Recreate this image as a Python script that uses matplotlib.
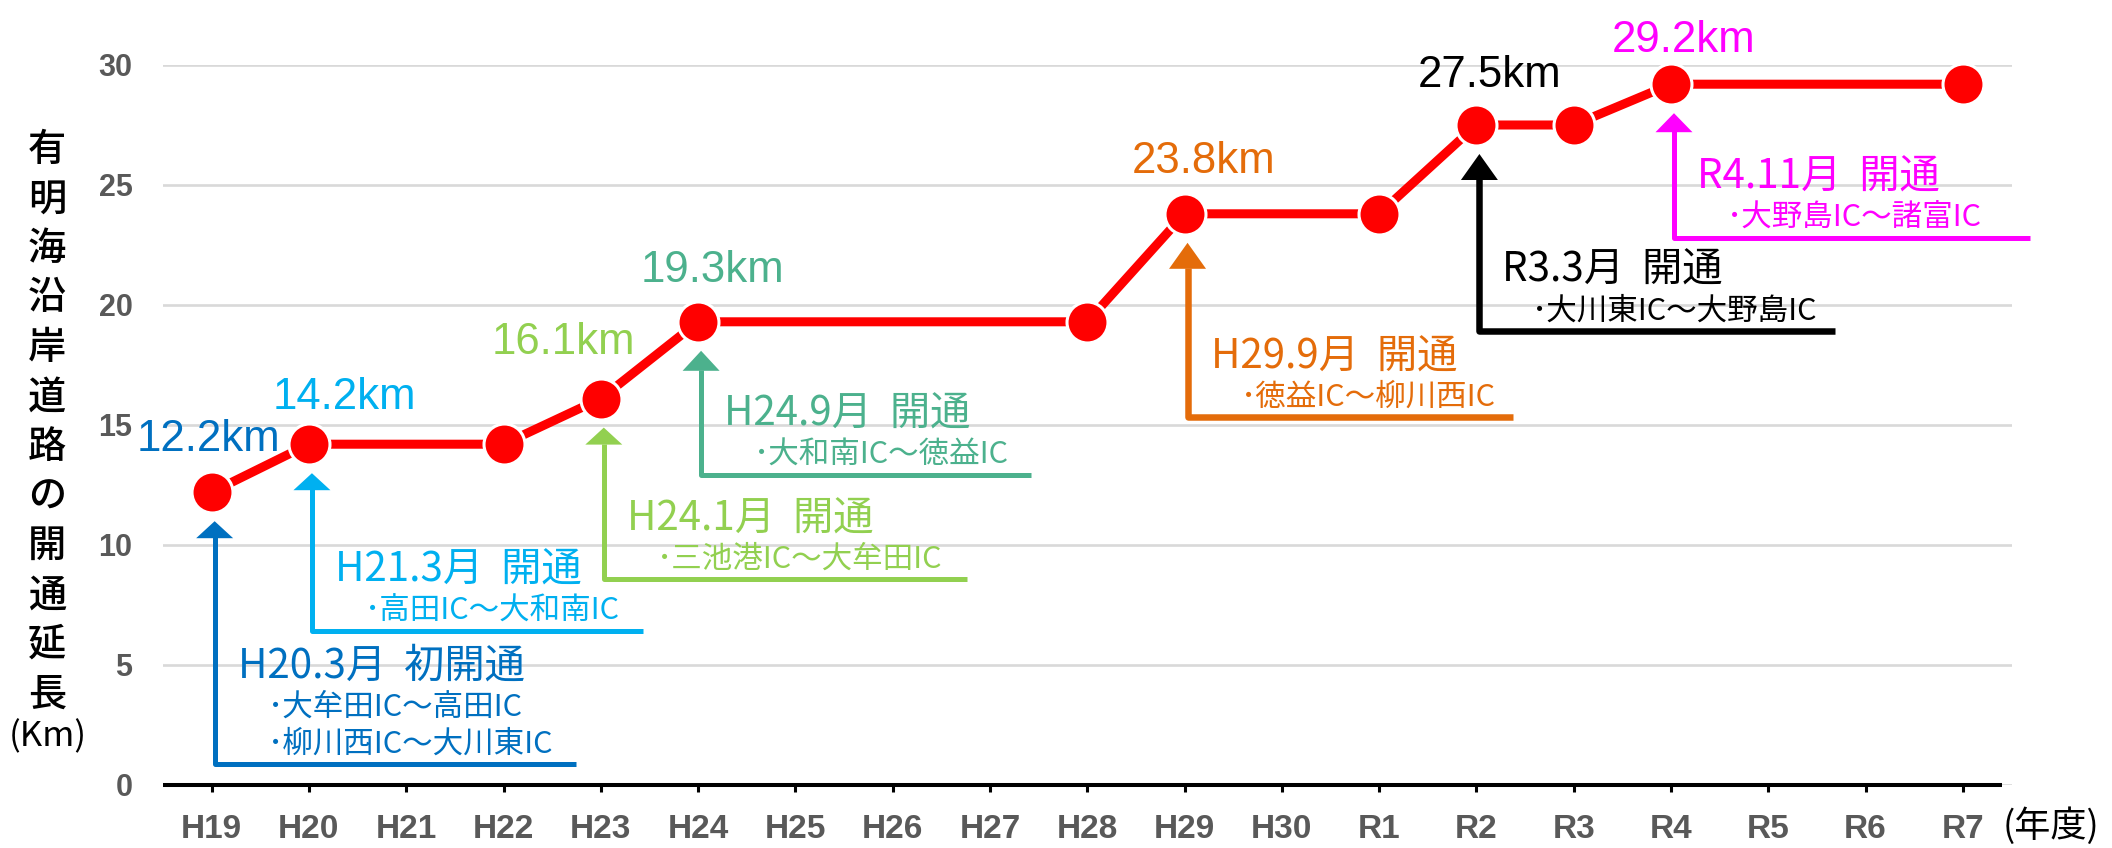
import matplotlib
matplotlib.use("Agg")
import matplotlib.pyplot as plt
from matplotlib.patches import Polygon
from matplotlib.transforms import offset_copy

# ---------------- data ----------------
years = ["H19", "H20", "H21", "H22", "H23", "H24", "H25", "H26", "H27", "H28",
         "H29", "H30", "R1", "R2", "R3", "R4", "R5", "R6", "R7"]
length_km = [12.2, 14.2, None, 14.2, 16.1, 19.3, None, None, None, 19.3,
             23.8, None, 23.8, 27.5, 27.5, 29.2, None, None, 29.2]

label_years = ["H19", "H20", "H23", "H24", "H29", "R2", "R4"]
label_colors = ["#0070C0", "#00B0F0", "#92D050", "#4CB18D", "#E46C0A", "#000000", "#FF00FF"]

open_years = ["H19", "H20", "H23", "H24", "H29", "R2", "R4"]
open_titles = ["H20.3月  初開通", "H21.3月  開通", "H24.1月  開通", "H24.9月  開通",
               "H29.9月  開通", "R3.3月  開通", "R4.11月  開通"]
open_sections = [["･大牟田IC～高田IC", "･柳川西IC～大川東IC"],
                 ["･高田IC～大和南IC"],
                 ["･三池港IC～大牟田IC"],
                 ["･大和南IC～徳益IC"],
                 ["･徳益IC～柳川西IC"],
                 ["･大川東IC～大野島IC"],
                 ["･大野島IC～諸富IC"]]

y_ticks = [0, 5, 10, 15, 20, 25, 30]
y_label_chars = "有明海沿岸道路の開通延長"
y_label_unit = "(Km)"
x_unit = "(年度)"

# ---------------- layout / style ----------------
W, H = 2112, 848
CJK = ["Noto Sans CJK JP", "DejaVu Sans"]
LAT = ["Liberation Sans", "DejaVu Sans"]

# value-label offsets in pixels (center x, baseline above point)
label_offsets = [(-3, 41), (35, 35), (-37, 45), (14, 40), (19, 41), (13, 38), (13, 32)]
# bracket geometry (data coords)
bracket_bottom = [0.875, 6.42, 8.58, 12.92, 15.33, 18.92, 22.81]
bracket_right = [3.74, 4.43, 7.76, 8.42, 13.38, 16.69, 18.69]
bracket_lw_px = [5, 5, 5, 5, 6.5, 6.5, 5]
head_len_px = [17, 17, 17, 20, 26, 26, 19]

fig = plt.figure(figsize=(W / 100, H / 100), dpi=100)
ax = fig.add_axes([163 / W, 1 - 785 / H, (2011.5 - 163) / W, (785 - 65) / H])
ax.set_xlim(-0.5, 18.5)
ax.set_ylim(0, 30)

# grid & axes
ax.set_yticks(y_ticks)
ax.yaxis.grid(True, color="#D9D9D9", lw=1.9)
ax.set_axisbelow(True)
for s in ["top", "left", "right"]:
    ax.spines[s].set_visible(False)
ax.spines["bottom"].set_linewidth(2.9)
ax.spines["bottom"].set_color("black")
ax.spines["bottom"].set_bounds(-0.5, 18.4)
ax.spines["bottom"].set_capstyle("butt")

ax.set_xticks(range(len(years)))
ax.set_xticklabels(years)
ax.tick_params(axis="x", direction="out", length=5, width=2.2, color="black",
               pad=16, labelsize=24, labelcolor="#595959")
ax.tick_params(axis="y", length=0, pad=22, labelsize=22, labelcolor="#595959")
for lab in ax.get_xticklabels() + ax.get_yticklabels():
    lab.set_fontfamily(LAT)
    lab.set_fontweight("bold")

# line + markers
xs = [i for i, v in enumerate(length_km) if v is not None]
ys = [v for v in length_km if v is not None]
ax.plot(xs, ys, color="#FF0000", lw=6.5, zorder=4, solid_joinstyle="round")
ax.plot(xs, ys, ls="none", marker="o", ms=29.5, mfc="#FF0000", mec="white",
        mew=2.2, zorder=5, clip_on=False)

# value labels
for yr, col, (dx, dy) in zip(label_years, label_colors, label_offsets):
    i = years.index(yr)
    v = length_km[i]
    tr = offset_copy(ax.transData, fig=fig, x=dx, y=dy, units="dots")
    ax.text(i, v, f"{v}km", transform=tr, ha="center", va="baseline",
            fontsize=31.5, color=col, fontfamily=LAT, zorder=6, clip_on=False)

# opening brackets with arrows
inv = ax.transData.inverted()
for k, yr in enumerate(open_years):
    i = years.index(yr)
    v = length_km[i]
    col = label_colors[k]
    xd, yd = ax.transData.transform((i, v))
    axx = xd + 3
    tip = yd - 29
    base = tip - head_len_px[k]
    _, yb = ax.transData.transform((0, bracket_bottom[k]))
    xr, _ = ax.transData.transform((bracket_right[k], 0))
    pts = inv.transform([(xr, yb), (axx, yb), (axx, base + 1)])
    ax.plot(pts[:, 0], pts[:, 1], color=col, lw=bracket_lw_px[k] * 0.72,
            solid_joinstyle="round", solid_capstyle="butt", zorder=3, clip_on=False)
    hw = 37
    tri = inv.transform([(axx - hw / 2, base), (axx + hw / 2, base), (axx, tip)])
    ax.add_patch(Polygon(tri, closed=True, facecolor=col, edgecolor="none",
                         zorder=3, clip_on=False))
    n = len(open_sections[k])
    for j, line in enumerate(open_sections[k]):
        tr = offset_copy(ax.transData, fig=fig, x=56, y=11 + 37 * (n - 1 - j), units="dots")
        ax.text(i, bracket_bottom[k], line, transform=tr, ha="left", va="baseline",
                fontsize=22, color=col, fontfamily=CJK, zorder=6, clip_on=False)
    tr = offset_copy(ax.transData, fig=fig, x=26, y=11 + 37 * (n - 1) + 38, units="dots")
    ax.text(i, bracket_bottom[k], open_titles[k], transform=tr, ha="left",
            va="baseline", fontsize=29, color=col, fontfamily=CJK, zorder=6, clip_on=False)

# y axis label (vertical, stacked characters)
for k, ch in enumerate(y_label_chars):
    fig.text(47 / W, 1 - (150 + 49.5 * k) / H, ch, ha="center", va="center",
             fontsize=27.5, color="black", fontfamily=CJK, fontweight="medium")
fig.text(48 / W, 1 - 737 / H, y_label_unit, ha="center", va="center",
         fontsize=25, color="black", fontfamily=CJK)
fig.text(2003 / W, 1 - 826 / H, x_unit, ha="left", va="center",
         fontsize=26, color="black", fontfamily=CJK)

fig.savefig("out.png", dpi=100, facecolor="white")
